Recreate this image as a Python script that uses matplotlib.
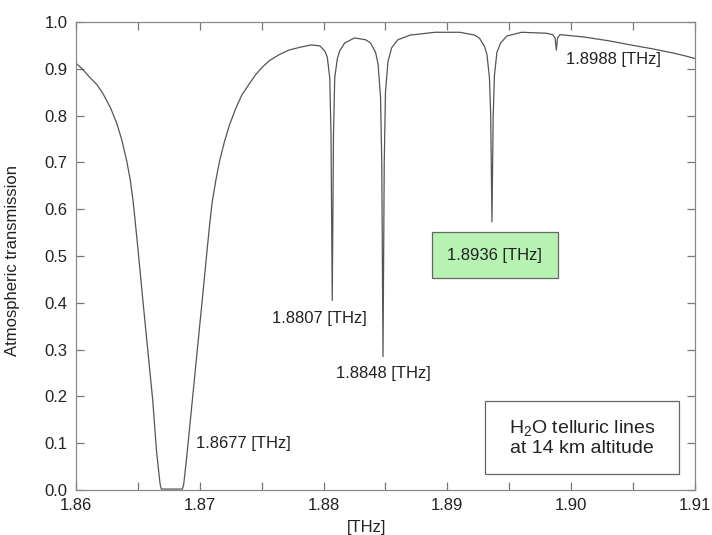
import matplotlib
matplotlib.use("Agg")
import matplotlib.pyplot as plt
from matplotlib.patches import Rectangle
from matplotlib.ticker import MultipleLocator

plt.rcParams['font.family'] = ['Liberation Sans', 'DejaVu Sans']
plt.rcParams['mathtext.default'] = 'regular'

# transmission curve (frequency in THz)
freq_thz = [
    1.8600, 1.8605, 1.8611, 1.8617, 1.8622, 1.8628, 1.8633, 1.8637, 1.8641,
    1.8644, 1.8646, 1.8648, 1.8650, 1.8654, 1.8658, 1.8662, 1.8665, 1.8667,
    1.8668, 1.8669, 1.8686, 1.8687, 1.8688, 1.8690, 1.8694, 1.8698, 1.8702,
    1.8706, 1.8708, 1.8710, 1.8713, 1.8716, 1.8720, 1.8724, 1.8729, 1.8734,
    1.8740, 1.8745, 1.8750, 1.8756, 1.8764, 1.8772, 1.8781, 1.8790, 1.8797,
    # line at 1.8807
    1.8801, 1.8803, 1.8805, 1.8806, 1.8807, 1.8808, 1.8809, 1.8811, 1.8813,
    1.8817, 1.8825, 1.8834,
    # line at 1.8848
    1.8838, 1.8842, 1.8844, 1.8846, 1.8847, 1.8848, 1.8849, 1.8850, 1.8852,
    1.8855, 1.8860, 1.8870, 1.8890, 1.8910, 1.8922,
    # line at 1.8936
    1.8926, 1.8930, 1.8932, 1.8934, 1.8935, 1.8936, 1.8937, 1.8938, 1.8940,
    1.8943, 1.8948, 1.8960, 1.8980,
    # weak line at 1.8988
    1.8985, 1.8987, 1.8988, 1.8989, 1.8991,
    1.9010, 1.9030, 1.9050, 1.9065, 1.9080, 1.9090, 1.9100,
]
transmission = [
    0.912, 0.900, 0.882, 0.866, 0.846, 0.816, 0.783, 0.748, 0.703,
    0.660, 0.620, 0.570, 0.517, 0.406, 0.299, 0.192, 0.085, 0.035,
    0.012, 0.002, 0.002, 0.012, 0.035, 0.085, 0.192, 0.299, 0.406,
    0.515, 0.568, 0.615, 0.662, 0.703, 0.745, 0.780, 0.815, 0.844,
    0.868, 0.887, 0.902, 0.917, 0.930, 0.940, 0.946, 0.951, 0.949,
    0.938, 0.925, 0.880, 0.760, 0.405, 0.760, 0.880, 0.920, 0.938,
    0.955, 0.966, 0.962,
    0.955, 0.935, 0.910, 0.840, 0.700, 0.285, 0.700, 0.850, 0.915,
    0.945, 0.962, 0.972, 0.978, 0.978, 0.972,
    0.965, 0.948, 0.930, 0.880, 0.800, 0.573, 0.800, 0.885, 0.935,
    0.955, 0.970, 0.978, 0.976,
    0.973, 0.966, 0.940, 0.966, 0.973,
    0.968, 0.960, 0.950, 0.943, 0.935, 0.929, 0.922,
]

line_labels = ["1.8677 [THz]", "1.8807 [THz]", "1.8848 [THz]", "1.8988 [THz]"]
label_x = [1.8697, 1.8758, 1.8810, 1.8996]
label_y = [0.100, 0.367, 0.250, 0.919]

fig = plt.figure(figsize=(7.12, 5.35), dpi=100)
ax = fig.add_axes([0.1067, 0.0841, 0.8694, 0.8748])

ax.plot(freq_thz, transmission, color='#555555', lw=0.9)

ax.set_xlim(1.86, 1.91)
ax.set_ylim(0.0, 1.0)
ax.xaxis.set_major_locator(MultipleLocator(0.01))
ax.xaxis.set_minor_locator(MultipleLocator(0.005))
ax.yaxis.set_major_locator(MultipleLocator(0.1))
ax.set_xticklabels([f"{v:.2f}" for v in ax.get_xticks()])
ax.set_yticks(ax.get_yticks())
ax.set_yticklabels([f"{v:.1f}" for v in ax.get_yticks()])
ax.set_xlim(1.86, 1.91)
ax.set_ylim(0.0, 1.0)

ax.tick_params(which='both', direction='in', top=True, right=True,
               color='#777777', labelsize=12, labelcolor='#222222', pad=6)
ax.tick_params(which='major', length=6, width=0.9)
ax.tick_params(which='minor', length=6, width=0.9)
for s in ax.spines.values():
    s.set_color('#888888')
    s.set_linewidth(0.9)

ax.set_ylabel("Atmospheric transmission", fontsize=12, color='#222222')
ax.yaxis.set_label_coords(-0.09, 0.49)
ax.set_xlabel("[THz]", fontsize=12, color='#222222')
ax.xaxis.set_label_coords(0.47, -0.065)

for txt, lx, ly in zip(line_labels, label_x, label_y):
    ax.text(lx, ly, txt, fontsize=12, color='#222222', ha='left', va='center')

ax.text(1.89384, 0.502, "1.8936 [THz]", fontsize=12, color='#222222',
        ha='center', va='center',
        bbox=dict(boxstyle='square,pad=0.95', facecolor='#b6f2b2',
                  edgecolor='#666666', linewidth=0.9))

ax.add_patch(Rectangle((0.661, 0.034), 0.313, 0.156, transform=ax.transAxes,
                       facecolor='white', edgecolor='#666666', linewidth=0.9))
ax.text(0.8174, 0.113, "H$_2$O telluric lines\nat 14 km altitude",
        transform=ax.transAxes, fontsize=14, color='#222222',
        ha='center', va='center', linespacing=1.15)

fig.savefig("out.png", dpi=100)
